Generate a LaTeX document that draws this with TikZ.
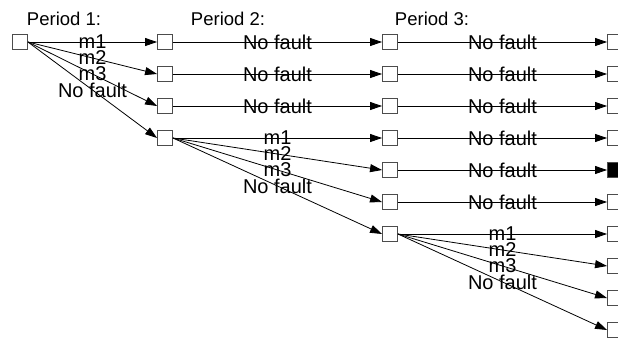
\documentclass[tikz,border=0pt]{standalone}
\usepackage{fontspec}
\setmainfont{Liberation Sans}
\usepackage{tikz}
\usetikzlibrary{arrows.meta,positioning}
\tikzstyle{state} = [rectangle, draw=black!70, line width=0.9pt, fill=white, minimum size=15pt, inner sep=0pt]
\tikzstyle{line} = [draw, line width=0.8pt, -{Triangle[length=12pt,width=8pt]}]
\tikzstyle{lbl} = [inner sep=0pt, font=\fontsize{20}{23}\selectfont]
\tikzstyle{head} = [inner sep=0pt, font=\fontsize{18.5}{22}\selectfont]

\begin{document}
\begin{tikzpicture}[x=1pt, y=-1pt]
		\useasboundingbox (0,0) rectangle (618,341);
		% Headings
		\node[head] (p1) at (64,19) {Period 1:};
		\node[head] (p2) at (228,19) {Period 2:};
		\node[head] (p3) at (432,19) {Period 3:};
		
		% Period 1
		\node[state] (n0) at (20,42) {};
		
		% Period 2
		\node[state, right of = n0, node distance = 145pt] (a1) {};
		\node[state, below of = a1, node distance = 32pt] (a2) {};
		\node[state, below of = a2, node distance = 32pt] (a3) {};
		\node[state, below of = a3, node distance = 32pt] (a4) {};
		
		% Period 3
		\node[state, right of = a1, node distance = 225pt] (b1) {};
		\node[state, right of = a2, node distance = 225pt] (b2) {};
		\node[state, right of = a3, node distance = 225pt] (b3) {};
		\node[state, right of = a4, node distance = 225pt] (b4) {};
		\node[state, below of = b4, node distance = 32pt] (b5) {};
		\node[state, below of = b5, node distance = 32pt] (b6) {};
		\node[state, below of = b6, node distance = 32pt] (b7) {};
		
		% end states
		\node[state, right of = b1, node distance = 225pt] (c1) {};
		\node[state, right of = b2, node distance = 225pt] (c2) {};
		\node[state, right of = b3, node distance = 225pt] (c3) {};
		\node[state, right of = b4, node distance = 225pt] (c4) {};
		\node[state, fill=black, right of = b5, node distance = 225pt] (c5) {};
		\node[state, right of = b6, node distance = 225pt] (c6) {};
		\node[state, right of = b7, node distance = 225pt] (c7) {};
		\node[state, below of = c7, node distance = 32pt] (c8) {};
		\node[state, below of = c8, node distance = 32pt] (c9) {};
		\node[state, below of = c9, node distance = 32pt] (c10) {};
		
		% Paths
		\path [line] (n0.east) -- node[lbl]{m1} (a1.west);
		\path [line] (n0.east) -- node[lbl]{m2} (a2.west);
		\path [line] (n0.east) -- node[lbl]{m3} (a3.west);
		\path [line] (n0.east) -- node[lbl]{No fault} (a4.west);
		\path [line] (a1) -- node[lbl]{No fault} (b1);
		\path [line] (a2) -- node[lbl]{No fault} (b2);
		\path [line] (a3) -- node[lbl]{No fault} (b3);
		\path [line] (a4.east) -- node[lbl]{m1} (b4.west);
		\path [line] (a4.east) -- node[lbl]{m2} (b5.west);
		\path [line] (a4.east) -- node[lbl]{m3} (b6.west);
		\path [line] (a4.east) -- node[lbl]{No fault} (b7.west);
		\path [line] (b1) -- node[lbl]{No fault} (c1);
		\path [line] (b2) -- node[lbl]{No fault} (c2);
		\path [line] (b3) -- node[lbl]{No fault} (c3);
		\path [line] (b4) -- node[lbl]{No fault} (c4);
		\path [line] (b5) -- node[lbl]{No fault} (c5);
		\path [line] (b6) -- node[lbl]{No fault} (c6);
		\path [line] (b7.east) -- node[lbl]{m1} (c7.west);
		\path [line] (b7.east) -- node[lbl]{m2} (c8.west);
		\path [line] (b7.east) -- node[lbl]{m3} (c9.west);
		\path [line] (b7.east) -- node[lbl]{No fault} (c10.west);
		
	\end{tikzpicture}
\end{document}
